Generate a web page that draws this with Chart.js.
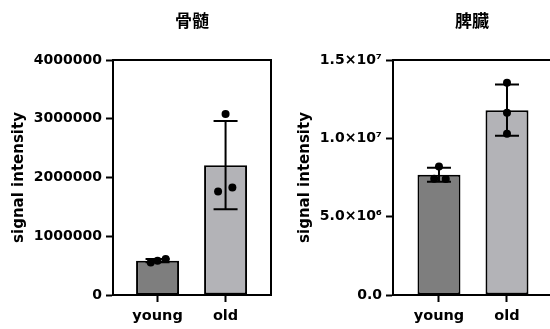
<!DOCTYPE html>
<html>
<head>
<meta charset="utf-8">
<script src="https://cdn.jsdelivr.net/npm/chart.js@4"></script>
<style>
  html, body { margin: 0; padding: 0; background: #fff; overflow: hidden; }
  #wrap { position: relative; width: 550px; height: 329px; overflow: hidden; }
  canvas { position: absolute; top: 0; }
  #marrow { left: 0; }
  #spleen { left: 275px; }
</style>
</head>
<body>
<div id="wrap">
  <canvas id="marrow" width="275" height="329"></canvas>
  <canvas id="spleen" width="280" height="329"></canvas>
</div>
<script>
  const groups = ["young", "old"];

  // 骨髄 (bone marrow)
  const marrowMean = [584000, 2210000];
  const marrowSD = [28000, 750000];
  const marrowPoints = [
    [555000, 585000, 612000],
    [3080000, 1760000, 1830000],
  ];
  const marrowTicks = ["0", "1000000", "2000000", "3000000", "4000000"];

  // 脾臓 (spleen)
  const spleenMean = [7680000, 11800000];
  const spleenSD = [450000, 1640000];
  const spleenPoints = [
    [8200000, 7420000, 7400000],
    [13550000, 11630000, 10290000],
  ];
  const spleenTicks = ["0.0", "5.0×10⁶", "1.0×10⁷", "1.5×10⁷"];

  // horizontal scatter of the dots inside a bar (in category units)
  const marrowJitter = [[-0.1, 0, 0.12], [0, -0.11, 0.1]];
  const spleenJitter = [[0, -0.07, 0.1], [0, 0, 0]];

  const FONT = "'DejaVu Sans', 'Liberation Sans', Arial, sans-serif";
  const CJK = "'Noto Sans CJK JP', 'Noto Sans CJK SC', sans-serif";
  const BAR_COLORS = ["#7e7e7e", "#b3b3b7"];

  const panelFrame = {
    id: "panelFrame",
    afterDraw(chart, args, opts) {
      const { ctx, chartArea } = chart;
      ctx.save();
      ctx.strokeStyle = "#000";
      ctx.lineWidth = 2;
      ctx.beginPath();
      ctx.moveTo(chartArea.left, chartArea.top);
      ctx.lineTo(chartArea.right, chartArea.top);
      ctx.lineTo(chartArea.right, chartArea.bottom);
      ctx.stroke();
      // title centred over the plot area
      ctx.fillStyle = "#000";
      ctx.font = `bold 17px ${CJK}`;
      ctx.textAlign = "center";
      ctx.textBaseline = "middle";
      ctx.fillText(opts.text, (chartArea.left + chartArea.right) / 2, 21);
      ctx.restore();
    },
  };

  const errorBars = {
    id: "errorBars",
    afterDatasetsDraw(chart, args, opts) {
      const { ctx } = chart;
      const xs = chart.scales.x;
      const ys = chart.scales.y;
      ctx.save();
      ctx.strokeStyle = "#000";
      ctx.lineWidth = 2;
      opts.means.forEach((mean, i) => {
        const x = xs.getPixelForValue(i);
        const top = ys.getPixelForValue(mean + opts.sds[i]);
        const bottom = ys.getPixelForValue(mean - opts.sds[i]);
        ctx.beginPath();
        ctx.moveTo(x, top);
        ctx.lineTo(x, bottom);
        ctx.moveTo(x - 12, top);
        ctx.lineTo(x + 12, top);
        ctx.moveTo(x - 12, bottom);
        ctx.lineTo(x + 12, bottom);
        ctx.stroke();
      });
      ctx.restore();
    },
  };

  function buildPanel(canvasId, cfg) {
    const barData = cfg.means.map((m, i) => ({ x: i, y: m }));
    const dotData = cfg.points.flatMap((vals, i) =>
      vals.map((v, j) => ({ x: i + cfg.jitter[i][j], y: v }))
    );
    const tickValues = cfg.tickLabels.map((_, i) => i * cfg.step);

    return new Chart(document.getElementById(canvasId), {
      type: "bar",
      data: {
        datasets: [
          {
            data: barData,
            backgroundColor: BAR_COLORS,
            borderColor: "#000",
            borderWidth: 2,
            borderSkipped: false,
            grouped: false,
            barPercentage: 0.632,
            categoryPercentage: 1,
            order: 2,
          },
          {
            type: "scatter",
            data: dotData,
            backgroundColor: "#000",
            borderWidth: 0,
            pointRadius: 4,
            order: 1,
          },
        ],
      },
      options: {
        responsive: false,
        animation: false,
        layout: { padding: { top: 60, right: 4, left: 0, bottom: 0 } },
        plugins: {
          legend: { display: false },
          tooltip: { enabled: false },
          panelFrame: { text: cfg.title },
          errorBars: { means: cfg.means, sds: cfg.sds },
        },
        scales: {
          x: {
            type: "linear",
            offset: false,
            min: cfg.xMin,
            max: cfg.xMax,
            afterBuildTicks(scale) {
              scale.ticks = groups.map((_, i) => ({ value: i }));
            },
            afterFit(scale) {
              scale.height = 34;
            },
            border: { color: "#000", width: 2 },
            grid: { offset: false, drawOnChartArea: false, tickLength: 7, tickWidth: 2, color: "#000" },
            ticks: {
              color: "#000",
              padding: 6,
              font: { family: FONT, size: 14.5, weight: "bold" },
              callback: (value) => groups[value],
            },
          },
          y: {
            min: 0,
            max: cfg.step * (cfg.tickLabels.length - 1),
            afterBuildTicks(scale) {
              scale.ticks = tickValues.map((v) => ({ value: v }));
            },
            afterFit(scale) {
              scale.width = cfg.axisWidth;
            },
            border: { color: "#000", width: 2 },
            grid: { drawOnChartArea: false, tickLength: 7, tickWidth: 2, color: "#000" },
            ticks: {
              color: "#000",
              padding: 4,
              font: { family: FONT, size: 14, weight: "bold" },
              callback: (value, index) => cfg.tickLabels[index],
            },
            title: {
              display: true,
              text: "signal intensity",
              color: "#000",
              padding: { top: cfg.titlePad, bottom: 0 },
              font: { family: FONT, size: 15, weight: "bold" },
            },
          },
        },
      },
      plugins: [panelFrame, errorBars],
    });
  }

  buildPanel("marrow", {
    title: "骨髄",
    means: marrowMean,
    sds: marrowSD,
    points: marrowPoints,
    jitter: marrowJitter,
    tickLabels: marrowTicks,
    step: 1000000,
    axisWidth: 113,
    titlePad: 10,
    xMin: -0.655,
    xMax: 1.668,
  });

  buildPanel("spleen", {
    title: "脾臓",
    means: spleenMean,
    sds: spleenSD,
    points: spleenPoints,
    jitter: spleenJitter,
    tickLabels: spleenTicks,
    step: 5000000,
    axisWidth: 118,
    titlePad: 21,
    xMin: -0.676,
    xMax: 1.647,
  });
</script>
</body>
</html>
